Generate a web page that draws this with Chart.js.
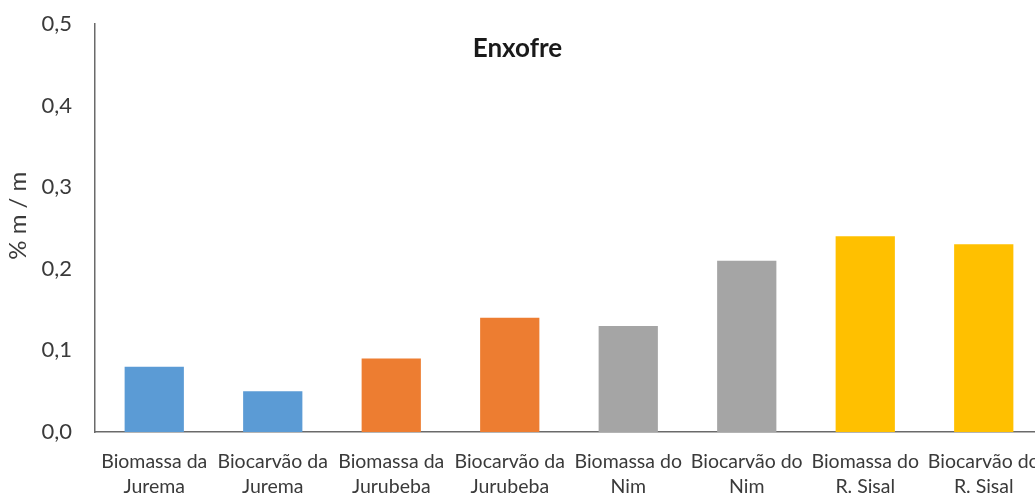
<!DOCTYPE html>
<html lang="pt">
<head>
    <meta charset="UTF-8">
    <title>Enxofre</title>
    <script src="https://cdn.jsdelivr.net/npm/chart.js"></script>
    <style>
        html, body { margin: 0; padding: 0; overflow: hidden; background: #fff; }
        .chart-box { position: relative; width: 1045px; height: 494px; }
    </style>
</head>
<body>
    <div class="chart-box">
        <canvas id="enxofreChart"></canvas>
    </div>

    <script>
        const categorias = [
            ['Biomassa da', 'Jurema'],
            ['Biocarvão da', 'Jurema'],
            ['Biomassa da', 'Jurubeba'],
            ['Biocarvão da', 'Jurubeba'],
            ['Biomassa do', 'Nim'],
            ['Biocarvão do', 'Nim'],
            ['Biomassa do', 'R. Sisal'],
            ['Biocarvão do', 'R. Sisal']
        ];
        const enxofre = [0.08, 0.05, 0.09, 0.14, 0.13, 0.21, 0.24, 0.23];
        const cores = ['#5B9BD5', '#5B9BD5', '#ED7D31', '#ED7D31', '#A5A5A5', '#A5A5A5', '#FFC000', '#FFC000'];
        const titulo = 'Enxofre';
        const tituloEixoY = '    % m / m';

        const fonte = "Lato, 'Open Sans', sans-serif";
        const corTexto = '#3a3a3a';
        const corEixo = '#6a6a6a';

        // titulo desenhado dentro da area do grafico, como no original
        const tituloInterno = {
            id: 'tituloInterno',
            afterDraw(chart) {
                const ctx = chart.ctx;
                ctx.save();
                ctx.font = "bold 26px " + fonte;
                ctx.fillStyle = '#1a1a1a';
                ctx.textAlign = 'center';
                ctx.textBaseline = 'middle';
                ctx.fillText(titulo, 1035 / 2, chart.chartArea.top + 25);
                ctx.restore();
            }
        };

        new Chart(document.getElementById('enxofreChart'), {
            type: 'bar',
            data: {
                labels: categorias,
                datasets: [{
                    label: titulo,
                    data: enxofre,
                    backgroundColor: cores,
                    barPercentage: 0.5,
                    categoryPercentage: 1.0
                }]
            },
            options: {
                responsive: true,
                maintainAspectRatio: false,
                animation: false,
                layout: { padding: { top: 24, right: 2, left: 0, bottom: 0 } },
                plugins: {
                    legend: { display: false },
                    tooltip: { enabled: false },
                    title: { display: false }
                },
                scales: {
                    x: {
                        grid: { display: false, drawTicks: true, tickLength: 15 },
                        border: { display: true, color: corEixo, width: 1.5 },
                        ticks: {
                            color: corTexto,
                            font: { family: fonte, size: 19.5, lineHeight: 1.3 },
                            padding: 2,
                            maxRotation: 0,
                            autoSkip: false
                        },
                        afterFit(scale) { scale.height = 62; }
                    },
                    y: {
                        min: 0,
                        max: 0.5,
                        grid: { display: false, drawTicks: true, tickLength: 20 },
                        border: { display: true, color: corEixo, width: 1.5 },
                        ticks: {
                            stepSize: 0.1,
                            color: corTexto,
                            padding: 3,
                            font: { family: fonte, size: 22 },
                            callback: v => v.toFixed(1).replace('.', ',')
                        },
                        title: {
                            display: true,
                            text: tituloEixoY,
                            color: corTexto,
                            font: { family: fonte, size: 24 },
                            padding: { top: 4, bottom: 0 }
                        },
                        afterFit(scale) { scale.width = 95; }
                    }
                }
            },
            plugins: [tituloInterno]
        });
    </script>
</body>
</html>
